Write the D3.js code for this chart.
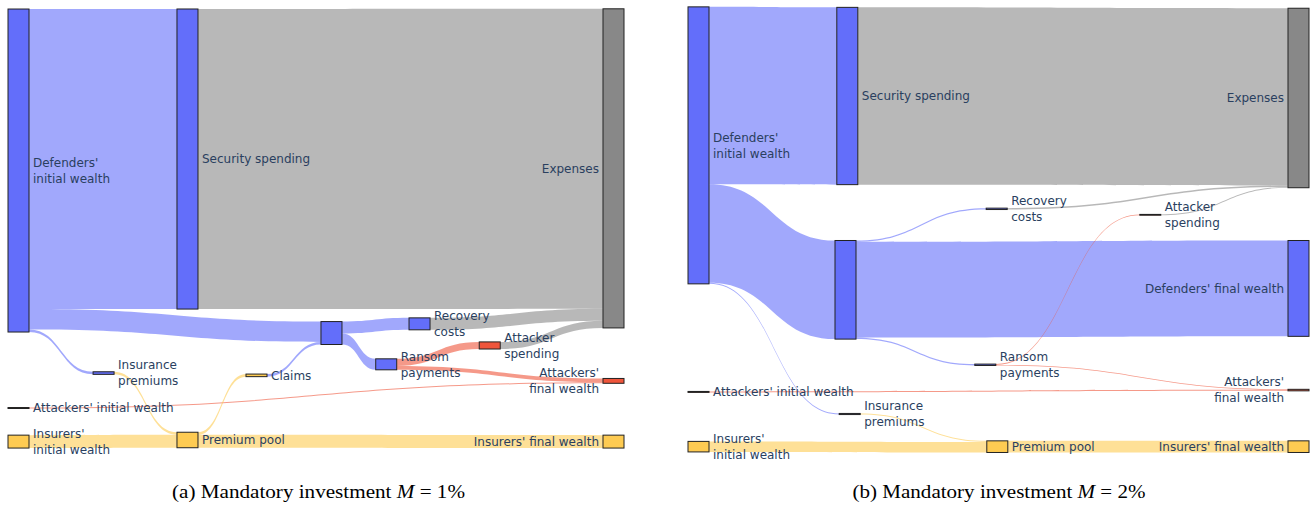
<!DOCTYPE html>
<html>
<head>
<meta charset="utf-8">
<script src="https://cdn.jsdelivr.net/npm/d3@7"></script>
<style>
  html, body { margin: 0; padding: 0; background: #fff; }
  svg { display: block; }
</style>
</head>
<body>
<svg id="chart" width="1312" height="506"></svg>
<script>
// ---------------- DATA ----------------
const nodeLabels = [
  "Defenders'\ninitial wealth",   // 0
  "Attackers' initial wealth",    // 1
  "Insurers'\ninitial wealth",    // 2
  "Security spending",            // 3
  "Insurance\npremiums",          // 4
  "",                             // 5 defenders' remaining wealth (unlabelled)
  "Premium pool",                 // 6
  "Claims",                       // 7
  "Recovery\ncosts",              // 8
  "Ransom\npayments",             // 9
  "Attacker\nspending",           // 10
  "Expenses",                     // 11
  "Defenders' final wealth",      // 12
  "Attackers'\nfinal wealth",     // 13
  "Insurers' final wealth"        // 14
];
const nodeGroups = ["def","att","ins","def","def","def","ins","ins","def","def","att","exp","def","att","ins"];

const linkSources = [0, 0, 0, 1, 2, 4, 6, 6, 7, 5, 5, 5, 8, 9, 9, 10, 3];
const linkTargets = [3, 5, 4, 13, 6, 6, 7, 14, 5, 8, 9, 12, 11, 10, 13, 11, 11];
// flows as % of defenders' initial wealth
const valuesM1 = [92.9, 6.3, 0.8, 0.3, 4.0, 0.8, 0.8, 4.0, 0.8, 3.7, 3.4, 0.0, 3.7, 2.2, 1.2, 2.2, 92.9];
const valuesM2 = [64.0, 35.6, 0.4, 0.35, 3.8, 0.4, 0.0, 4.2, 0.0, 0.5, 0.5, 34.6, 0.5, 0.3, 0.2, 0.3, 64.0];

const captions = [
  {pre: "(a) Mandatory investment ", it: "M", post: " = 1%"},
  {pre: "(b) Mandatory investment ", it: "M", post: " = 2%"}
];

// ---------------- LAYOUT (node arrangement, plotly-style fractions) ----------------
const arrangeA = {
  x: [0, 0, 0, 0.284, 0.143, 0.526, 0.284, 0.400, 0.674, 0.618, 0.792, 1, 1, 1, 1],
  y: [0.3707, 0.887, 0.960, 0.3457, 0.811, 0.724, 0.9565, 0.816, 0.704, 0.792, 0.751, 0.366, 0.5, 0.828, 0.960]
};
const arrangeB = {
  x: [0, 0, 0, 0.248, 0.252, 0.245, 0.498, 0.5, 0.497, 0.478, 0.753, 1, 1, 1, 1],
  y: [0.316, 0.852, 0.971, 0.2087, 0.900, 0.630, 0.971, 0.5, 0.454, 0.793, 0.467, 0.213, 0.627, 0.848, 0.971]
};

const colors = { def: "#636efa", att: "#ef553b", ins: "#fecb52", exp: "#888888" };
const svg = d3.select("#chart");
const NODE_W = 21;

function drawPanel(values, arrange, xRange, pxPer100, cap, capX) {
  const g = svg.append("g");
  const xs = d3.scaleLinear().domain([0, 1]).range(xRange);
  const ys = d3.scaleLinear().domain([0, 1]).range([0, 460]);
  const vs = d3.scaleLinear().domain([0, 100]).range([0, pxPer100]);

  const links = values.map((v, i) => ({ s: linkSources[i], t: linkTargets[i], v }))
                      .filter(l => l.v > 0);
  const nodes = nodeLabels.map((label, i) => {
    const inV = d3.sum(links.filter(l => l.t === i), l => l.v);
    const outV = d3.sum(links.filter(l => l.s === i), l => l.v);
    const val = Math.max(inV, outV);
    const h = vs(val);
    const cy = ys(arrange.y[i]);
    const x0 = xs(arrange.x[i]);
    return { i, label, group: nodeGroups[i], val, h, x0, x1: x0 + NODE_W,
             y0: cy - h / 2, y1: cy + h / 2, cy, last: arrange.x[i] >= 1 };
  }).filter(n => n.val > 0);
  const byId = new Map(nodes.map(n => [n.i, n]));
  links.forEach(l => { l.source = byId.get(l.s); l.target = byId.get(l.t); l.w = vs(l.v); });

  // stack link ends on nodes
  nodes.forEach(n => {
    let off = n.y0;
    links.filter(l => l.source === n).sort((a, b) => a.target.cy - b.target.cy)
      .forEach(l => { l.sy = off; off += l.w; });
    off = n.y0;
    links.filter(l => l.target === n).sort((a, b) => a.source.cy - b.source.cy)
      .forEach(l => { l.ty = off; off += l.w; });
  });

  const bandPath = l => {
    const x0 = l.source.x1, x1 = l.target.x0, xm = (x0 + x1) / 2;
    const p = d3.path();
    p.moveTo(x0, l.sy);
    p.bezierCurveTo(xm, l.sy, xm, l.ty, x1, l.ty);
    p.lineTo(x1, l.ty + l.w);
    p.bezierCurveTo(xm, l.ty + l.w, xm, l.sy + l.w, x0, l.sy + l.w);
    p.closePath();
    return p.toString();
  };

  g.append("g").selectAll("path").data(links).join("path")
    .attr("d", bandPath)
    .attr("fill", l => colors[l.target.group])
    .attr("fill-opacity", 0.6);

  g.append("g").selectAll("rect").data(nodes).join("rect")
    .attr("x", n => n.x0).attr("y", n => n.y0)
    .attr("width", NODE_W).attr("height", n => Math.max(n.h, 0.01))
    .attr("fill", n => colors[n.group])
    .attr("stroke", "#222").attr("stroke-width", 1);

  const lab = g.append("g").selectAll("text").data(nodes.filter(n => n.label)).join("text")
    .attr("x", n => n.last ? n.x0 - 4 : n.x1 + 4)
    .attr("y", n => n.cy)
    .attr("text-anchor", n => n.last ? "end" : "start")
    .attr("font-family", "'DejaVu Sans', Verdana, sans-serif")
    .attr("font-size", 12)
    .attr("fill", "#2a3f5f");
  lab.each(function(n) {
    const lines = n.label.split("\n");
    const t = d3.select(this);
    lines.forEach((line, k) => {
      t.append("tspan")
        .attr("x", n.last ? n.x0 - 4 : n.x1 + 4)
        .attr("y", n.cy + (k - (lines.length - 1) / 2) * 16)
        .attr("dy", "0.35em")
        .text(line);
    });
  });

  const ct = svg.append("text")
    .attr("x", capX).attr("y", 498)
    .attr("text-anchor", "middle")
    .attr("font-family", "'Liberation Serif', 'Times New Roman', serif")
    .attr("font-size", 19)
    .attr("textLength", 293)
    .attr("lengthAdjust", "spacingAndGlyphs")
    .attr("fill", "#000");
  ct.append("tspan").text(cap.pre);
  ct.append("tspan").attr("font-style", "italic").text(cap.it);
  ct.append("tspan").text(cap.post);
}

drawPanel(valuesM1, arrangeA, [8, 603], 323, captions[0], 318.5);
drawPanel(valuesM2, arrangeB, [688, 1288], 277, captions[1], 999);
</script>
</body>
</html>
